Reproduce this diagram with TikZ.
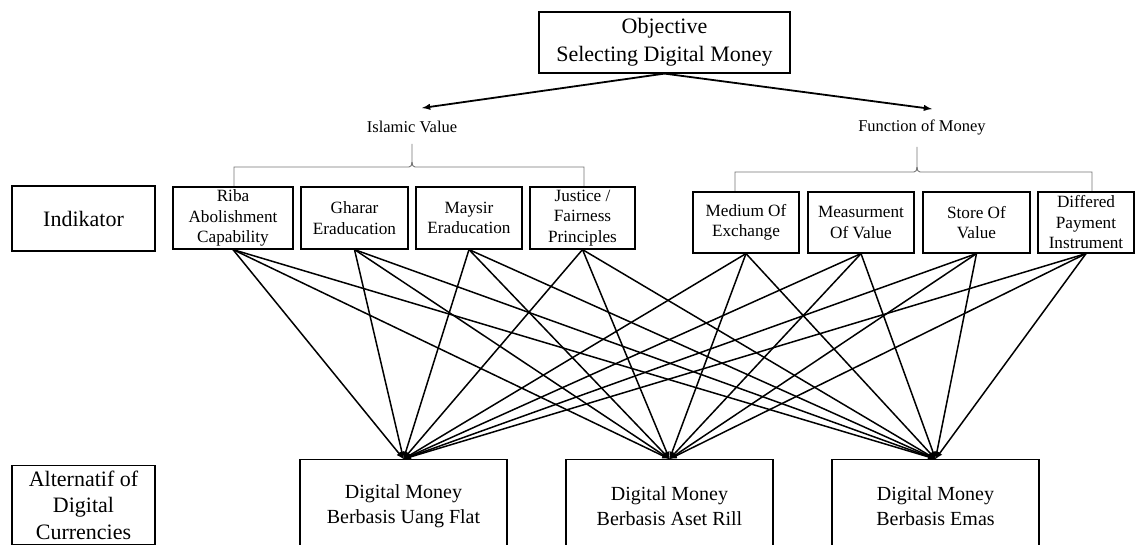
\documentclass[tikz,border=0pt]{standalone}
\usepackage{fontspec}
\setmainfont{Liberation Serif}
\begin{document}
\begin{tikzpicture}[x=1pt,y=-1pt,
  box/.style={draw,line width=1.2pt,align=center,inner sep=0pt},
  crit/.style={box,font=\fontsize{17.2}{20.5}\selectfont},
  alt/.style={box,font=\fontsize{20}{25}\selectfont,minimum width=207pt,minimum height=94pt,anchor=north},
  head/.style={font=\fontsize{16.5}{20}\selectfont},
  link/.style={line width=1.5pt,-latex},
  brace/.style={black!55,line width=0.9pt}]
\useasboundingbox (0,0) rectangle (1135,545);
\clip (0,0) rectangle (1135,545);
% goal
\node[box,font=\fontsize{22}{28}\selectfont,minimum width=251pt,minimum height=61pt] (goal) at (664.5,42.5) {Objective\\Selecting Digital Money};
\node[head] (islam) at (412,127) {Islamic Value};
\node[head] (func) at (922,127) {Function of Money};
\coordinate (islamtip) at (422,108);
\coordinate (functip) at (932,109);
\draw[line width=1.8pt,-latex] (goal.south) -- (islamtip);
\draw[line width=1.8pt,-latex] (goal.south) -- (functip);
% braces
\draw[brace] (234,187) |- (409,167) .. controls (411,167) and (412,165) .. (412,162) -- (412,144);
\draw[brace] (584,187) |- (415,167) .. controls (413,167) and (412,165) .. (412,162);
\draw[brace] (735,192) |- (914,172) .. controls (916,172) and (917,170) .. (917,167) -- (917,147);
\draw[brace] (1092,192) |- (920,172) .. controls (918,172) and (917,170) .. (917,167);
% row labels
\node[box,font=\fontsize{22}{27}\selectfont,minimum width=143pt,minimum height=65pt] (ind) at (83.5,218.5) {Indikator};
\node[box,font=\fontsize{22}{26.5}\selectfont,minimum width=143pt,minimum height=79pt] (altlab) at (83.5,505) {Alternatif of\\Digital\\Currencies};
% criteria
\node[crit,minimum width=120pt,minimum height=62pt] (riba) at (233,218) {Riba\\Abolishment\\Capability};
\node[crit,minimum width=107pt,minimum height=62pt] (gharar) at (354.5,218) {Gharar\\Eraducation};
\node[crit,minimum width=106pt,minimum height=62pt] (maysir) at (469,218) {Maysir\\Eraducation};
\node[crit,minimum width=105pt,minimum height=62pt] (justice) at (582.5,218) {Justice /\\Fairness\\Principles};
\node[crit,minimum width=106pt,minimum height=61pt] (medium) at (746,222.5) {Medium Of\\Exchange};
\node[crit,minimum width=106pt,minimum height=61pt] (measure) at (861,222.5) {Measurment\\Of Value};
\node[crit,minimum width=107pt,minimum height=61pt] (store) at (976.5,222.5) {Store Of\\Value};
\node[crit,minimum width=96pt,minimum height=61pt] (differ) at (1086,222.5) {Differed\\Payment\\Instrument};
% alternatives
\node[alt] (flat) at (403.5,459) {Digital Money\\Berbasis Uang Flat};
\node[alt] (rill) at (669.5,459) {Digital Money\\Berbasis Aset Rill};
\node[alt] (emas) at (935.5,459) {Digital Money\\Berbasis Emas};
\foreach \s in {riba,gharar,maysir,justice,medium,measure,store,differ}
  \foreach \t in {flat,rill,emas}
    \draw[link] (\s.south) -- (\t.north);
\end{tikzpicture}
\end{document}
